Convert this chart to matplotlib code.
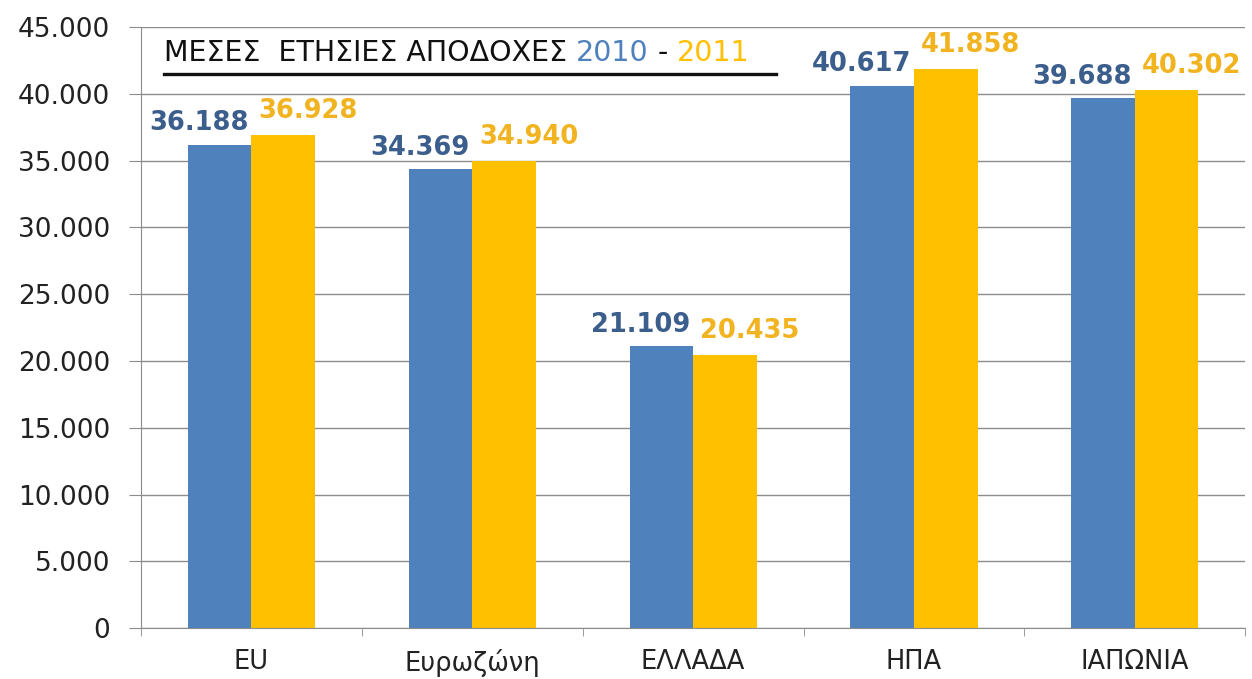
import matplotlib.pyplot as plt
import numpy as np
from matplotlib.ticker import FuncFormatter, MultipleLocator

categories = ['EU', 'Ευρωζώνη', 'ΕΛΛΑΔΑ', 'ΗΠΑ', 'ΙΑΠΩΝΙΑ']
values_2010 = [36188, 34369, 21109, 40617, 39688]
values_2011 = [36928, 34940, 20435, 41858, 40302]

blue = '#4F81BD'
yellow = '#FFC000'
blue_txt = '#3B5E8C'
yellow_txt = '#F2B321'

plt.rcParams['font.family'] = ['DejaVu Sans']

fig = plt.figure(figsize=(12.52, 6.79), dpi=100)
ax = fig.add_axes([0.1126, 0.075, 0.882, 0.885])

x = np.arange(len(categories))
w = 0.288
b1 = ax.bar(x - w / 2, values_2010, w, color=blue, zorder=2)
b2 = ax.bar(x + w / 2, values_2011, w, color=yellow, zorder=2)

def dotfmt(v):
    return f'{int(round(v)):,}'.replace(',', '.')

for rect, v in zip(b1, values_2010):
    ax.annotate(dotfmt(v), (rect.get_x() + rect.get_width() / 2, v),
                xytext=(-15, 6), textcoords='offset points', ha='center', va='bottom',
                fontsize=18.5, fontweight='bold', color=blue_txt)
for rect, v in zip(b2, values_2011):
    ax.annotate(dotfmt(v), (rect.get_x() + rect.get_width() / 2, v),
                xytext=(18, 8), textcoords='offset points', ha='center', va='bottom',
                fontsize=18.5, fontweight='bold', color=yellow_txt)

ax.set_xlim(-0.5, len(categories) - 0.5)
ax.set_ylim(0, 45000)
ax.yaxis.set_major_locator(MultipleLocator(5000))
ax.yaxis.set_major_formatter(FuncFormatter(lambda v, p: dotfmt(v)))
ax.grid(axis='y', color='#8C8C8C', linewidth=1, zorder=0)

ax.set_xticks(x)
ax.set_xticklabels(categories)
ax.set_xticks(np.arange(len(categories) + 1) - 0.5, minor=True)
ax.tick_params(axis='x', which='major', length=0, pad=15, labelsize=18.5, labelcolor='#222222')
ax.tick_params(axis='x', which='minor', length=6, color='#8C8C8C')
ax.tick_params(axis='y', length=9, color='#8C8C8C', labelsize=19, labelcolor='#222222', pad=13)

for s in ['top', 'right']:
    ax.spines[s].set_visible(False)
ax.spines['left'].set_color('#8C8C8C')
ax.spines['bottom'].set_color('#8C8C8C')

# title with coloured years
fs = 20.5
t1 = ax.text(0.021, 0.944, 'ΜΕΣΕΣ  ΕΤΗΣΙΕΣ ΑΠΟΔΟΧΕΣ ', transform=ax.transAxes,
             va='baseline', fontsize=fs, color='#111111')
t2 = ax.annotate('2010', xy=(1, 0), xycoords=t1, va='bottom', fontsize=fs, color=blue)
t3 = ax.annotate(' - ', xy=(1, 0), xycoords=t2, va='bottom', fontsize=fs, color='#111111')
t4 = ax.annotate('2011', xy=(1, 0), xycoords=t3, va='bottom', fontsize=fs, color=yellow)
ax.plot([0.021, 0.575], [0.922, 0.922], transform=ax.transAxes, color='#111111',
        linewidth=2.4, clip_on=False, zorder=3)

fig.savefig('out.png', dpi=100)
